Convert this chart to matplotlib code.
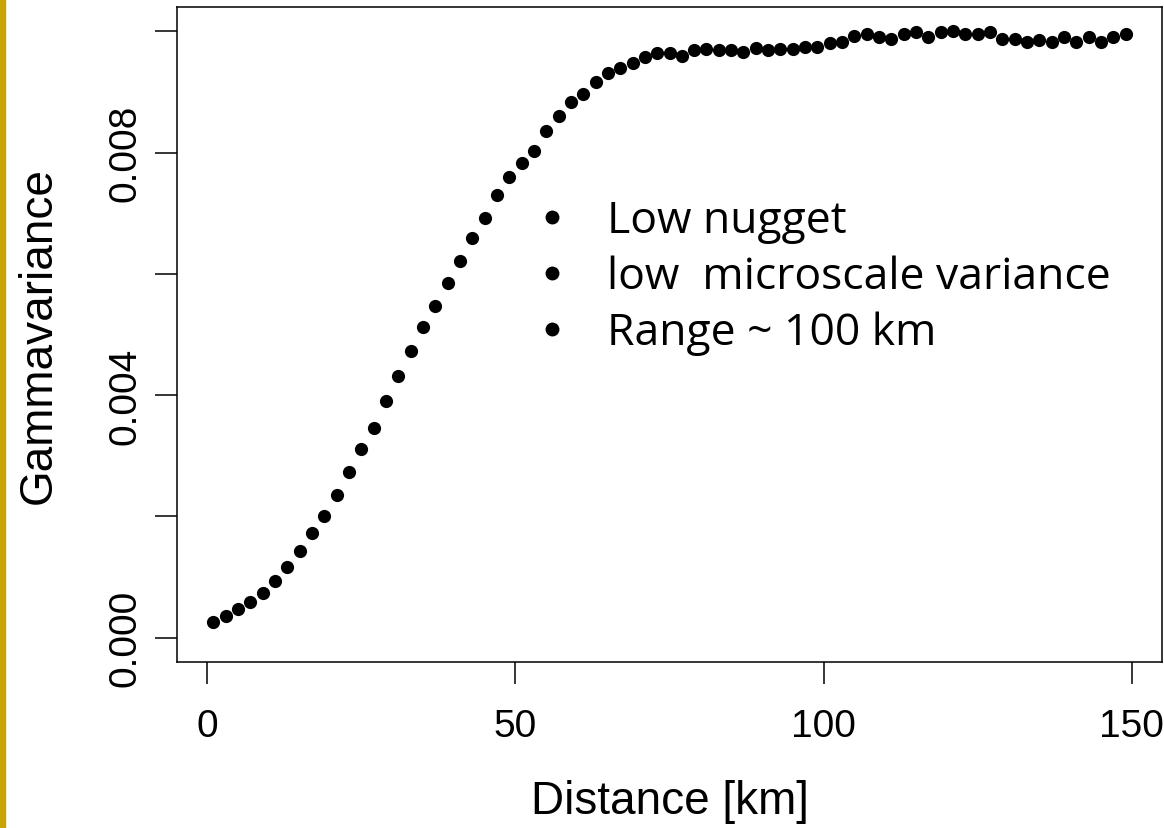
import numpy as np
import matplotlib
matplotlib.use("Agg")
import matplotlib.pyplot as plt
from matplotlib.lines import Line2D

# distancias (km) y semivarianza
dist = np.arange(1, 150, 2)
gamma = [0.00026, 0.00036, 0.00047, 0.00059, 0.00073, 0.00093, 0.00117, 0.00143,
         0.00172, 0.00201, 0.00236, 0.00274, 0.00311, 0.00346, 0.00390, 0.00431,
         0.00472, 0.00512, 0.00547, 0.00585, 0.00622, 0.00659, 0.00692, 0.00730,
         0.00760, 0.00783, 0.00803, 0.00835, 0.00860, 0.00884, 0.00896, 0.00916,
         0.00931, 0.00939, 0.00948, 0.00958, 0.00964, 0.00964, 0.00960, 0.00969,
         0.00971, 0.00969, 0.00969, 0.00966, 0.00972, 0.00969, 0.00971, 0.00971,
         0.00974, 0.00974, 0.00980, 0.00983, 0.00993, 0.00995, 0.00991, 0.00988,
         0.00995, 0.00998, 0.00991, 0.00998, 0.01000, 0.00995, 0.00995, 0.00998,
         0.00988, 0.00988, 0.00983, 0.00985, 0.00983, 0.00990, 0.00983, 0.00990,
         0.00983, 0.00990, 0.00995]

xticks = [0, 50, 100, 150]
yticks = [0.0, 0.002, 0.004, 0.006, 0.008, 0.010]
ytick_labels = ["0.000", "", "0.004", "", "0.008", ""]
notes = ["Low nugget", "low  microscale variance", "Range ~ 100 km"]

W, H = 1164, 829
fig = plt.figure(figsize=(W / 100, H / 100), dpi=100)
ax = fig.add_axes([177 / W, 1 - 663 / H, (1162 - 177) / W, (663 - 8) / H])

ax.plot(dist, gamma, 'o', color='black', markersize=9.5, markeredgewidth=0)

ax.set_xlim(1 - 5.92, 149 + 5.92)
ax.set_ylim(-0.0004, 0.0104)
ax.set_xticks(xticks)
ax.set_xticklabels([str(t) for t in xticks], fontfamily='Liberation Sans', fontsize=28)
ax.set_yticks(yticks)
ax.set_yticklabels(ytick_labels, fontfamily='Liberation Sans', fontsize=28,
                   rotation=90, va='center')
ax.tick_params(axis='x', length=16, width=1.1, pad=17)
ax.tick_params(axis='y', length=16, width=1.1, pad=8)
for s in ax.spines.values():
    s.set_linewidth(1.1)

ax.set_xlabel("Distance [km]", fontfamily='Liberation Sans', fontsize=33, labelpad=25)
ax.set_ylabel("Gammavariance", fontfamily='Liberation Sans', fontsize=33, labelpad=34)

# notas con vinetas
for i, t in enumerate(notes):
    yb = 1 - (233 + 56 * i) / H
    fig.add_artist(Line2D([552 / W], [1 - (218 + 56 * i) / H], marker='o',
                          markersize=10, color='black', markeredgewidth=0,
                          transform=fig.transFigure))
    fig.text(607 / W, yb, t, fontfamily='Open Sans', fontsize=32,
             ha='left', va='baseline')

# barra amarilla a la izquierda
fig.patches.append(plt.Rectangle((0, 0), 5 / W, 1, transform=fig.transFigure,
                                 color='#C9A400', zorder=5))

fig.savefig("out.png", dpi=100)
